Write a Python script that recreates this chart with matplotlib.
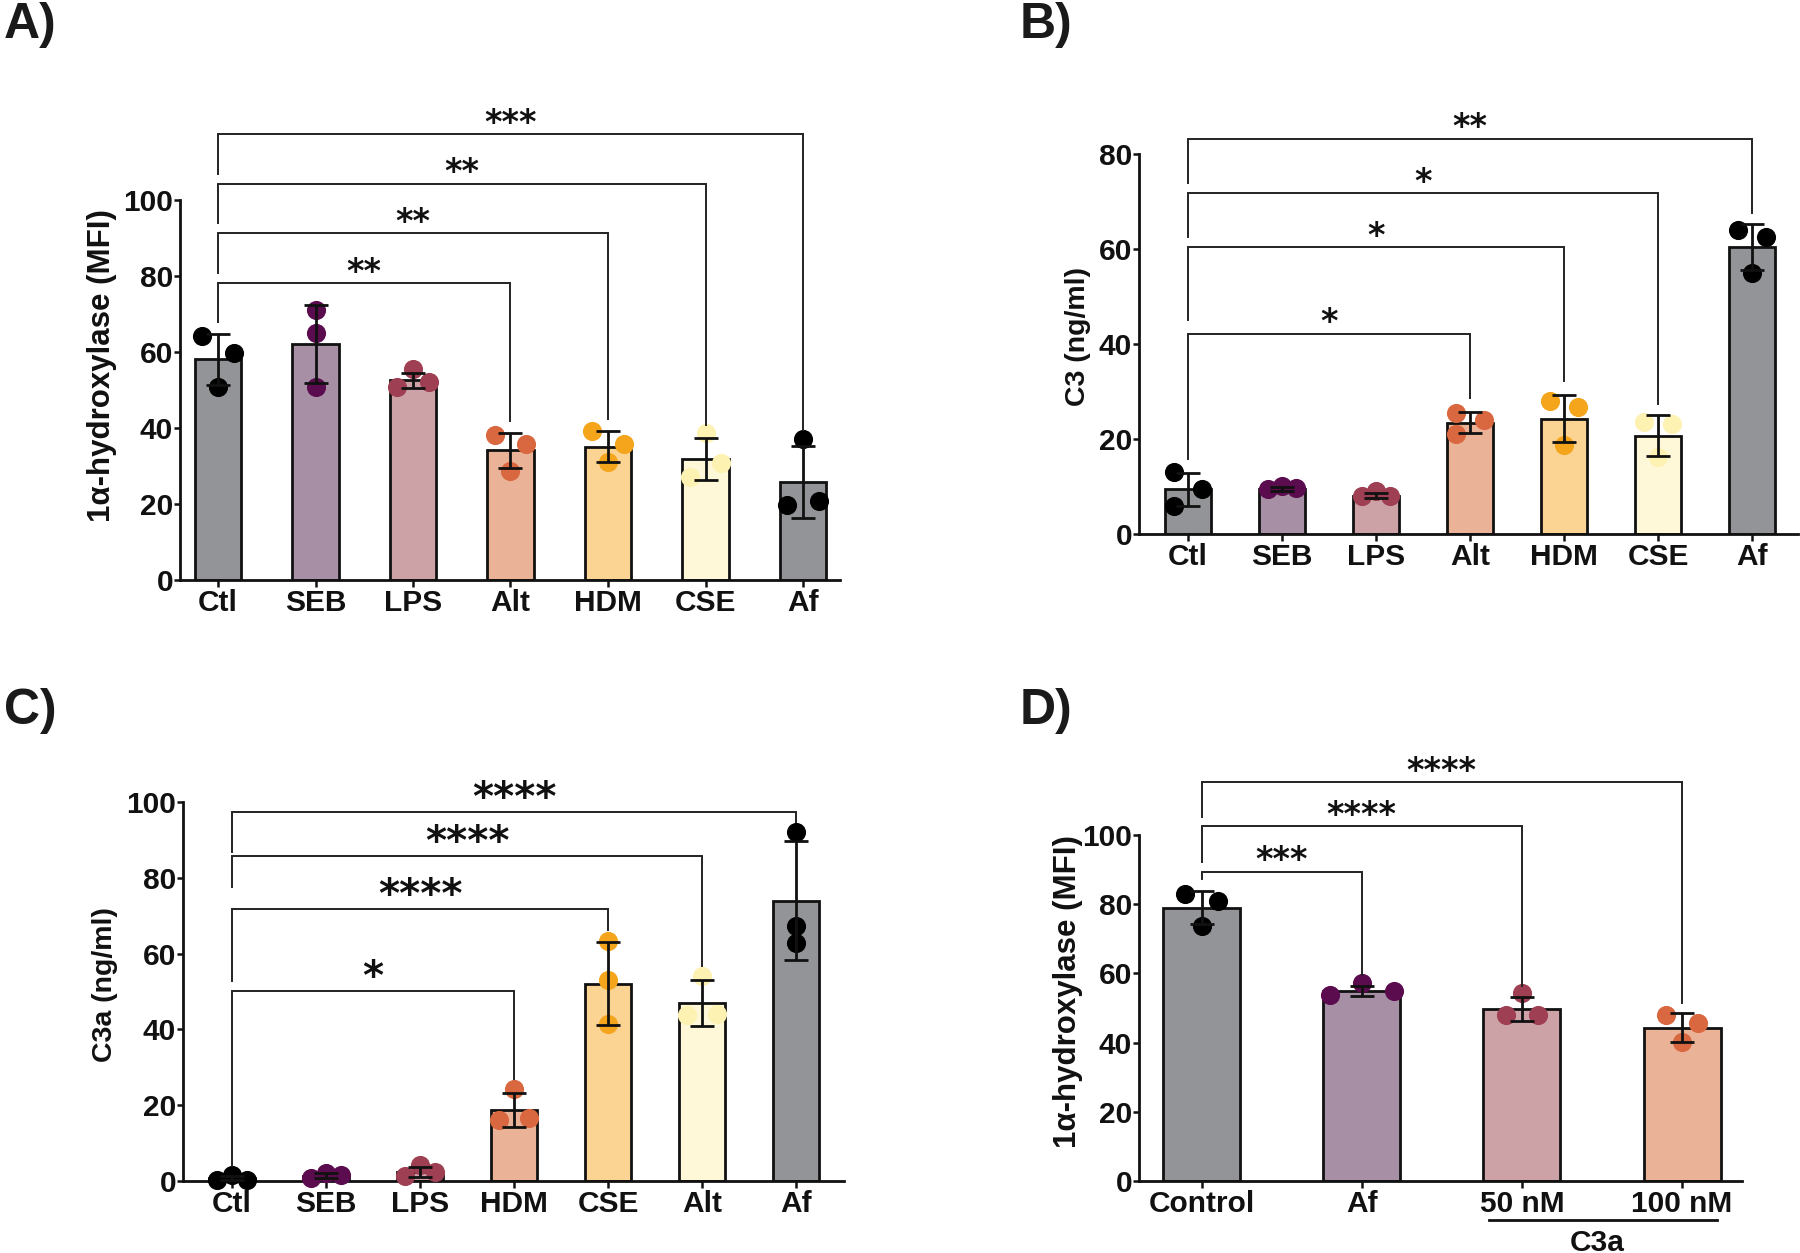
import matplotlib.pyplot as plt
import numpy as np

# ---- data ----
A_labels = ['Ctl', 'SEB', 'LPS', 'Alt', 'HDM', 'CSE', 'Af']
A_mean = [58.1, 62.1, 52.6, 34.1, 35.1, 31.8, 25.8]
A_sd = [6.7, 10.3, 2.0, 4.7, 4.0, 5.6, 9.5]
A_pts = [[64.3, 59.8, 50.9], [71.1, 64.9, 50.9], [50.9, 55.5, 52.1], [38.1, 35.9, 28.8],
         [39.1, 35.9, 31.0], [38.8, 30.8, 27.0], [37.2, 19.8, 20.9]]
A_sig = [(0, 3, 78.2, 67.8, 41.9, '**'), (0, 4, 91.2, 80.8, 42.3, '**'),
         (0, 5, 104.3, 93.9, 40.9, '**'), (0, 6, 117.3, 106.9, 39.5, '***')]

B_labels = ['Ctl', 'SEB', 'LPS', 'Alt', 'HDM', 'CSE', 'Af']
B_mean = [9.4, 9.5, 8.1, 23.4, 24.3, 20.7, 60.4]
B_sd = [3.5, 0.45, 0.5, 2.2, 5.0, 4.3, 4.8]
B_pts = [[13.1, 9.4, 5.9], [9.4, 10.2, 9.7], [8.1, 9.1, 8.1], [25.4, 24.0, 21.1],
         [28.0, 26.8, 18.7], [23.5, 23.1, 16.2], [63.9, 62.6, 54.9]]
B_sig = [(0, 3, 42.2, 15.8, 28.6, '*'), (0, 4, 60.4, 45.1, 32.2, '*'),
         (0, 5, 71.7, 62.5, 27.3, '*'), (0, 6, 83.2, 74.0, 67.5, '**')]

C_labels = ['Ctl', 'SEB', 'LPS', 'HDM', 'CSE', 'Alt', 'Af']
C_mean = [0.7, 1.4, 2.3, 18.7, 52.1, 47.0, 73.9]
C_sd = [0.5, 0.65, 1.3, 4.4, 11.0, 6.0, 15.7]
C_pts = [[0.3, 1.5, 0.3], [0.9, 2.0, 1.7], [1.2, 4.3, 2.3], [24.3, 16.2, 16.6],
         [63.3, 53.0, 41.4], [54.2, 43.7, 44.1], [92.1, 67.3, 62.8]]
C_sig = [(0, 3, 50.2, 4.0, 26.9, '*'), (0, 4, 71.7, 52.8, 66.1, '****'),
         (0, 5, 85.7, 77.5, 56.8, '****'), (0, 6, 97.4, 86.8, 94.6, '****')]

D_labels = ['Control', 'Af', '50 nM', '100 nM']
D_mean = [79.0, 54.9, 49.7, 44.3]
D_sd = [4.7, 1.45, 3.5, 4.15]
D_pts = [[82.9, 80.8, 73.8], [53.8, 57.1, 54.8], [54.2, 48.0, 48.0], [47.9, 45.8, 40.1]]
D_sig = [(0, 1, 89.4, 87.2, 59.6, '***'), (0, 2, 102.6, 92.3, 56.5, '****'),
         (0, 3, 115.3, 105.3, 51.4, '****')]

# horizontal spread of the dots (in units of one dot step)
A_off = [(-1, 1, 0), (0, 0, 0), (-1, 0, 1), (-1, 1, 0), (-1, 1, 0), (0, 1, -1), (0, -1, 1)]
B_off = [(-1, 1, -1), (-1, 0, 1), (-1, 0, 1), (-1, 1, -1), (-1, 1, 0), (-1, 1, 0), (-1, 1, 0)]
C_off = [(-1, 0, 1), (-1, 0, 1), (-1, 0, 1), (0, -1, 1), (0, 0, 0), (0, -1, 1), (0, 0, 0)]
D_off = [(-1, 1, 0), (-2, 0, 2), (0, -1, 1), (-1, 1, 0)]

bar_pal = ['#939498', '#a790a6', '#cda2a6', '#eab296', '#fbd493', '#fef8d8', '#939498']
dot_pal = ['#000000', '#5b0c4f', '#9e3f54', '#d9673f', '#f4a51c', '#fdf2b2', '#000000']

ARIAL = ['Liberation Sans', 'DejaVu Sans']

W, H = 1800, 1253
fig = plt.figure(figsize=(18, 12.53), dpi=100)


def panel(xl, xr, y0, ytop, x0, dx, labels, means, sds, pts, offs, sig, ymax, ylabel,
          lab_x, lab_y, lab_size, spread, star_size=24, bw=0.48):
    ax = fig.add_axes([xl / W, 1 - y0 / H, (xr - xl) / W, (y0 - ytop) / H])
    x = np.arange(len(labels))
    ax.bar(x, means, width=bw, color=bar_pal[:len(labels)], edgecolor='#111111',
           linewidth=2.0, zorder=2)
    for i in range(len(labels)):
        ax.scatter(x[i] + np.array(offs[i]) * spread, pts[i], s=190, color=dot_pal[i],
                   linewidths=0, zorder=3, clip_on=False)
    ax.errorbar(x, means, yerr=sds, fmt='none', ecolor='#111111', elinewidth=2.0,
                capsize=8.5, capthick=2.0, zorder=4, clip_on=False)
    for i, j, yb, lleg, rleg, stars in sig:
        ax.plot([x[i], x[i], x[j], x[j]], [lleg, yb, yb, rleg], color='#222222', lw=1.4,
                clip_on=False, zorder=5, solid_joinstyle='miter')
        ax.annotate(stars, ((x[i] + x[j]) / 2, yb), xytext=(0, -0.17 * star_size),
                    textcoords='offset points', ha='center', va='bottom',
                    fontsize=star_size, fontweight='bold', family='DejaVu Sans',
                    annotation_clip=False, color='#111111')
    ax.set_xlim((xl - x0) / dx, (xr - x0) / dx)
    ax.set_ylim(0, ymax)
    ax.set_yticks(np.arange(0, ymax + 1, 20))
    ax.set_xticks(x)
    ax.set_xticklabels(labels)
    for s in ['top', 'right']:
        ax.spines[s].set_visible(False)
    for s in ['left', 'bottom']:
        ax.spines[s].set_linewidth(2.0)
        ax.spines[s].set_color('#111111')
    ax.tick_params(axis='x', length=5, width=1.8, pad=1.2, color='#111111')
    ax.tick_params(axis='y', length=4, width=1.8, pad=1, color='#111111')
    for t in ax.get_xticklabels() + ax.get_yticklabels():
        t.set_fontsize(21.5)
        t.set_fontweight('bold')
        t.set_family(ARIAL)
        t.set_color('#111111')
    ax.set_ylabel(ylabel, fontsize=lab_size, fontweight='bold', family=ARIAL, color='#111111')
    ax.yaxis.label.set_va('center')
    ax.yaxis.set_label_coords((lab_x - xl) / (xr - xl), (y0 - lab_y) / (y0 - ytop))
    return ax


panel(180, 840, 580, 200, 218, 97.5, A_labels, A_mean, A_sd, A_pts, A_off, A_sig, 100,
      '1\u03b1-hydroxylase (MFI)', 102, 366, 22.5, 0.16)
panel(1139, 1798, 534, 154, 1188, 94, B_labels, B_mean, B_sd, B_pts, B_off, B_sig, 80,
      'C3 (ng/ml)', 1078, 336, 20.5, 0.15)
panel(183, 844, 1181, 802, 232, 94, C_labels, C_mean, C_sd, C_pts, C_off, C_sig, 100,
      'C3a (ng/ml)', 105, 985, 20.5, 0.16, star_size=29)
axD = panel(1139, 1742, 1181, 835, 1201.5, 160.2, D_labels, D_mean, D_sd, D_pts, D_off,
            D_sig, 100, '1\u03b1-hydroxylase (MFI)', 1068, 992, 22.5, 0.1, bw=0.48)

# group line under the C3a doses
trD = axD.get_xaxis_transform()
axD.plot([1.795, 3.218], [-0.112, -0.112], color='#111111', lw=2.0, transform=trD,
         clip_on=False)
axD.text(2.47, -0.178, 'C3a', transform=trD, ha='center', va='center', fontsize=21.5,
         fontweight='bold', family=ARIAL, color='#111111')

for lab, px, py in [('A)', 4, 2), ('B)', 1020, 2), ('C)', 4, 688), ('D)', 1020, 688)]:
    fig.text(px / W, 1 - py / H, lab, ha='left', va='top', fontsize=36, fontweight='bold',
             family=ARIAL, color='#1a1a1a')

fig.savefig('out.png', dpi=100)
